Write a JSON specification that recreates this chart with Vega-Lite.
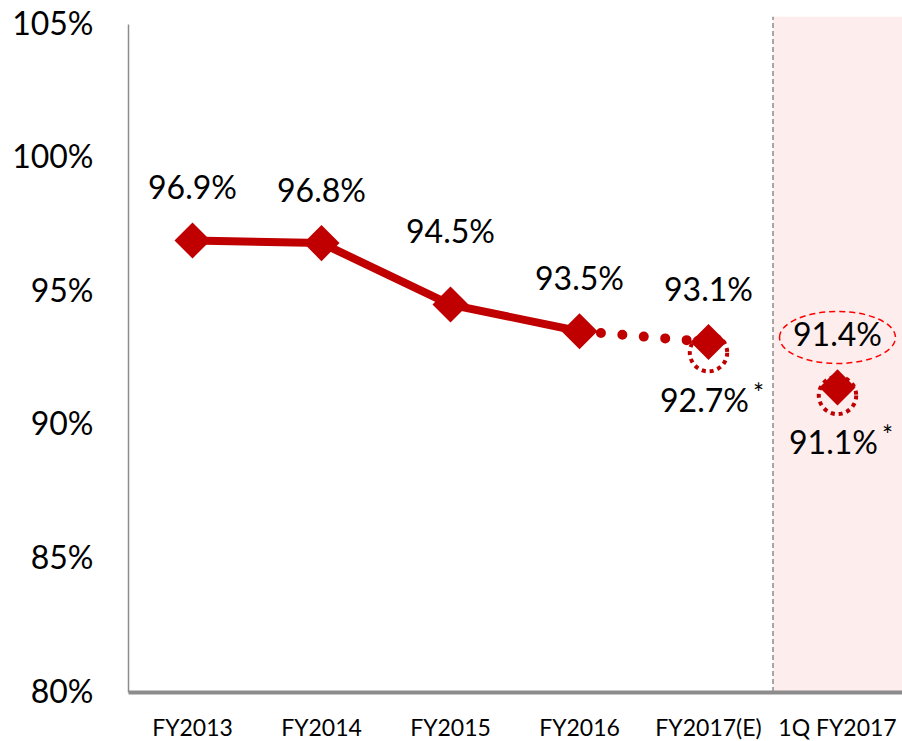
{
  "$schema": "https://vega.github.io/schema/vega-lite/v6.json",
  "width": 774,
  "height": 668,
  "autosize": "none",
  "padding": {"left": 128, "top": 24, "right": 0, "bottom": 49},
  "background": "white",
  "config": {"view": {"stroke": null}, "font": "Lato"},
  "datasets": {
    "main": [
      {"cat": "FY2013", "value": 96.9, "label": "96.9%", "seg": "actual"},
      {"cat": "FY2014", "value": 96.8, "label": "96.8%", "seg": "actual"},
      {"cat": "FY2015", "value": 94.5, "label": "94.5%", "seg": "actual"},
      {"cat": "FY2016", "value": 93.5, "label": "93.5%", "seg": "actual"},
      {"cat": "FY2017(E)", "value": 93.1, "label": "93.1%", "seg": "estimate"},
      {"cat": "1Q FY2017", "value": 91.4, "label": "91.4%", "seg": "quarter"}
    ],
    "dotted": [
      {"cat": "FY2016", "value": 93.5},
      {"cat": "FY2017(E)", "value": 93.1}
    ],
    "adj": [
      {"cat": "FY2017(E)", "value": 92.7, "label": "92.7%"},
      {"cat": "1Q FY2017", "value": 91.1, "label": "91.1%"}
    ],
    "shade": [{"cat": "1Q FY2017"}]
  },
  "encoding": {
    "x": {
      "field": "cat",
      "type": "nominal",
      "sort": null,
      "scale": {"type": "band", "domain": ["FY2013", "FY2014", "FY2015", "FY2016", "FY2017(E)", "1Q FY2017"], "paddingInner": 0, "paddingOuter": 0},
      "axis": {
        "title": null,
        "labelAngle": 0,
        "labelFontSize": 23,
        "labelColor": "#000000",
        "labelBaseline": "middle",
        "labelPadding": 36,
        "labelOverlap": false,
        "ticks": false,
        "domainColor": "#8c8c8c",
        "domainWidth": 4
      }
    }
  },
  "layer": [
    {
      "data": {"name": "shade"},
      "mark": {"type": "rect", "color": "#fdeded"},
      "encoding": {
        "y": {"datum": 80, "type": "quantitative"},
        "y2": {"datum": 105.27}
      }
    },
    {
      "data": {"name": "shade"},
      "mark": {"type": "rule", "color": "#8c8c8c", "strokeWidth": 1.5, "strokeDash": [5, 3]},
      "encoding": {
        "x": {"field": "cat", "type": "nominal", "bandPosition": 0},
        "y": {"datum": 80, "type": "quantitative"},
        "y2": {"datum": 105.27}
      }
    },
    {
      "data": {"name": "main"},
      "transform": [{"filter": "datum.seg == 'actual'"}],
      "mark": {"type": "line", "color": "#c00000", "strokeWidth": 8},
      "encoding": {
        "y": {
          "field": "value",
          "type": "quantitative",
          "scale": {"domain": [80, 105], "nice": false, "zero": false},
          "axis": {
            "title": null,
            "values": [80, 85, 90, 95, 100, 105],
            "labelExpr": "datum.value + '%'",
            "labelFontSize": 32,
            "labelColor": "#000000",
            "labelPadding": 35,
            "ticks": false,
            "grid": false,
            "domainColor": "#8c8c8c",
            "domainWidth": 1.5
          }
        }
      }
    },
    {
      "data": {"name": "dotted"},
      "mark": {"type": "line", "color": "#c00000", "strokeWidth": 10, "strokeCap": "round", "strokeDash": [0, 21.5]},
      "encoding": {"y": {"field": "value", "type": "quantitative"}}
    },
    {
      "data": {"name": "adj"},
      "mark": {"type": "point", "shape": "circle", "filled": false, "stroke": "#c00000", "strokeWidth": 4, "strokeDash": [4, 4], "size": 1400, "opacity": 1},
      "encoding": {"y": {"field": "value", "type": "quantitative"}}
    },
    {
      "data": {"name": "main"},
      "mark": {"type": "point", "shape": "diamond", "filled": true, "color": "#c00000", "size": 1300, "opacity": 1},
      "encoding": {"y": {"field": "value", "type": "quantitative"}}
    },
    {
      "data": {"name": "main"},
      "transform": [{"filter": "datum.cat != 'FY2015'"}],
      "mark": {"type": "text", "fontSize": 32, "color": "#000000", "dy": -51},
      "encoding": {
        "y": {"field": "value", "type": "quantitative"},
        "text": {"field": "label"}
      }
    },
    {
      "data": {"name": "main"},
      "transform": [{"filter": "datum.cat == 'FY2015'"}],
      "mark": {"type": "text", "fontSize": 32, "color": "#000000", "dy": -72},
      "encoding": {
        "y": {"field": "value", "type": "quantitative"},
        "text": {"field": "label"}
      }
    },
    {
      "data": {"name": "main"},
      "transform": [{"filter": "datum.seg == 'quarter'"}],
      "mark": {"type": "point", "shape": "M-2.23,-1.92A2.23,1 0 1,1 2.23,-1.92A2.23,1 0 1,1 -2.23,-1.92Z", "filled": false, "stroke": "#ff0000", "strokeWidth": 1.5, "strokeDash": [6, 4], "size": 2704, "opacity": 1},
      "encoding": {"y": {"field": "value", "type": "quantitative"}}
    },
    {
      "data": {"name": "adj"},
      "mark": {"type": "text", "fontSize": 32, "color": "#000000", "dy": 49, "dx": -4},
      "encoding": {
        "y": {"field": "value", "type": "quantitative"},
        "text": {"field": "label"}
      }
    },
    {
      "data": {"name": "adj"},
      "mark": {"type": "text", "fontSize": 26, "color": "#000000", "dy": 42, "dx": 50, "text": "*"},
      "encoding": {
        "y": {"field": "value", "type": "quantitative"}
      }
    }
  ]
}
